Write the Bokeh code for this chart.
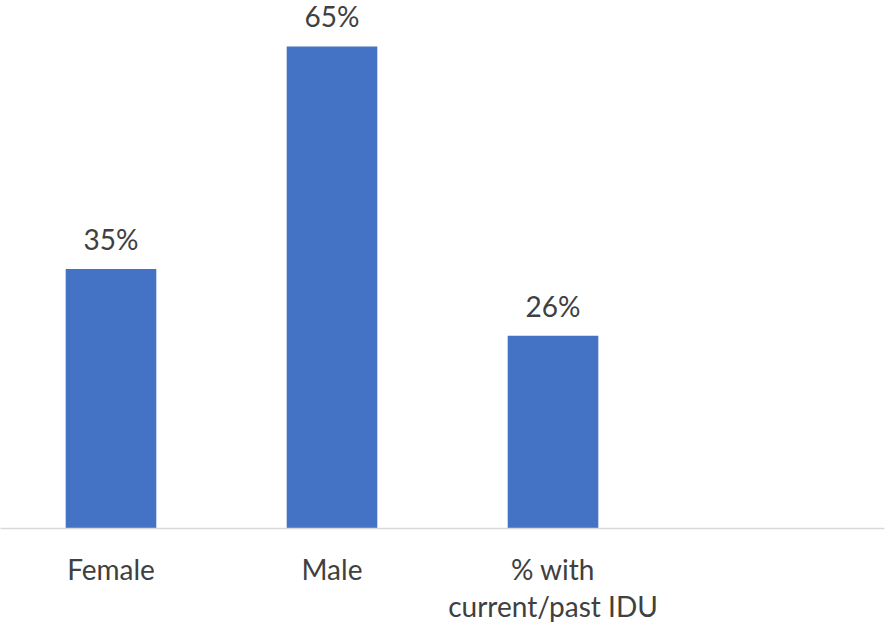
from bokeh.plotting import figure
from bokeh.models import ColumnDataSource, FactorRange, Range1d, LabelSet
from bokeh.core.properties import value
from bokeh.embed import file_html
from bokeh.resources import INLINE

categories = ["Female", "Male", "% with\ncurrent/past IDU", " "]
values = [35, 65, 26]
value_labels = ["35%", "65%", "26%"]

src = ColumnDataSource(dict(cat=categories[:3], val=values, lab=value_labels))

p = figure(x_range=FactorRange(*categories, range_padding=0.0), y_range=Range1d(0, 71.2),
           width=886, height=626, output_backend="svg", toolbar_location=None,
           min_border_left=0, min_border_right=2, min_border_top=0, min_border_bottom=98)
p.outline_line_color = None
p.background_fill_color = "white"
p.border_fill_color = "white"
p.xgrid.visible = False
p.ygrid.visible = False
p.yaxis.visible = False

p.vbar(x="cat", top="val", width=0.41, source=src, fill_color="#4472C4", line_color=None)

labels = LabelSet(x="cat", y="val", text="lab", source=src, text_align="center",
                  text_baseline="alphabetic", y_offset=19, text_font=value("Lato"),
                  text_font_size=value("28px"), text_color=value("#404040"))
p.add_layout(labels)

ax = p.xaxis[0]
ax.axis_line_color = "#d9d9d9"
ax.axis_line_width = 1.5
ax.major_tick_line_color = None
ax.minor_tick_line_color = None
ax.major_label_standoff = 17
ax.major_label_text_line_height = 1.1
ax.major_label_text_font = "Lato"
ax.major_label_text_font_size = "28px"
ax.major_label_text_color = "#404040"

open("out.html", "w").write(file_html(p, INLINE))
